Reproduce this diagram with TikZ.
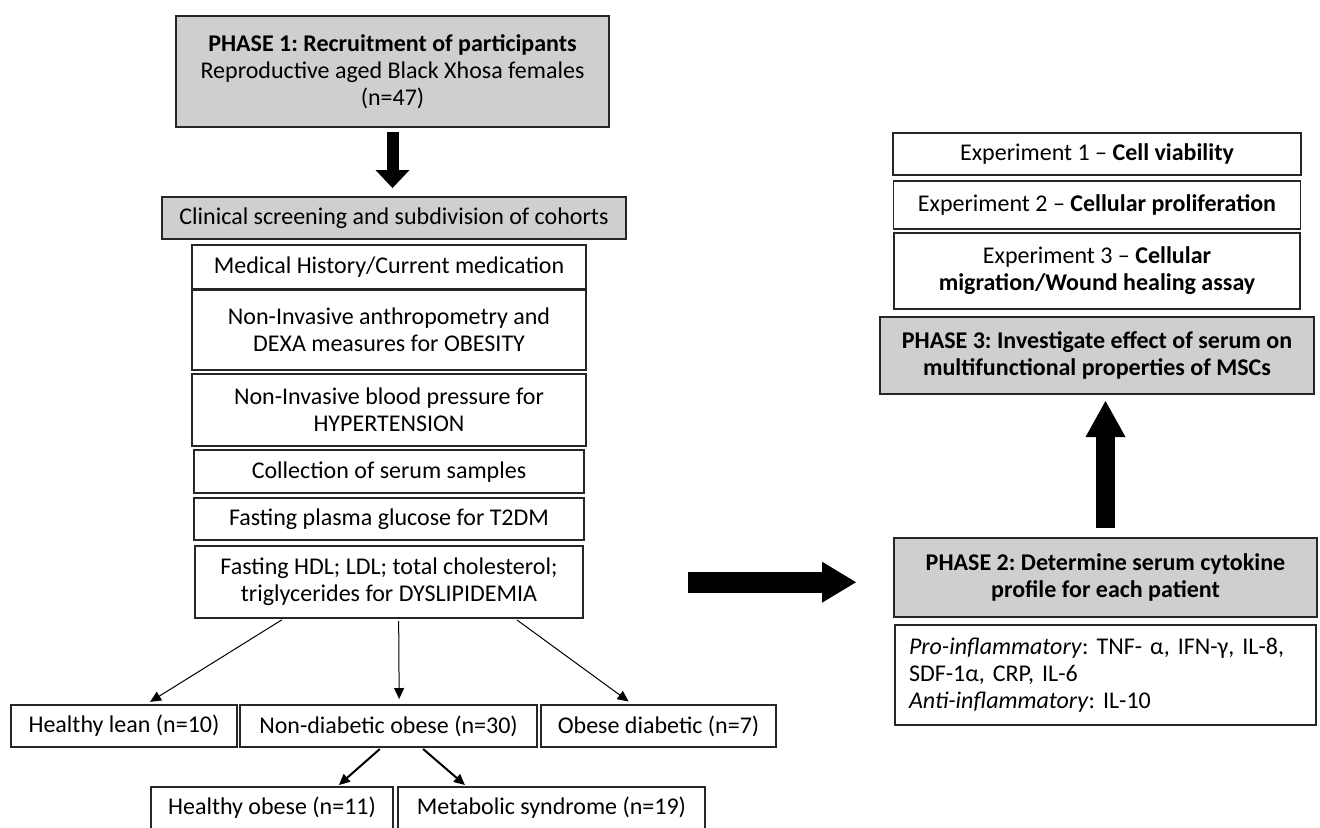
\documentclass[tikz,border=0pt]{standalone}
\usepackage{fontspec}
\setmainfont{Carlito}
\usetikzlibrary{arrows.meta,positioning}
\definecolor{panel}{HTML}{D0CECE}
\frenchspacing

\begin{document}
\begin{tikzpicture}[x=0.5pt,y=-0.5pt,
  font=\fontsize{12}{13.5}\selectfont,
  box/.style={draw=black!85,line width=0.8pt,align=center,inner sep=2pt,outer sep=0pt},
  phase/.style={box,fill=panel},
  split/.style={-{Triangle[length=5.5pt,width=5pt]},line width=0.5pt,shorten <=1.5pt,shorten >=3pt},
  fatarrow/.style={line width=#1}]
  \useasboundingbox (0,0) rectangle (1320,827);
  % left column
  \node[phase,minimum width=216.5pt,minimum height=55.5pt] (recruit) at (392.5,71.5)
    {\textbf{PHASE 1: Recruitment of participants}\\Reproductive aged Black Xhosa females\\(n=47)};
  \node[phase,minimum width=232pt,minimum height=21pt] (screen) at (394,218)
    {Clinical screening and subdivision of cohorts};
  \node[box,minimum width=197pt,minimum height=22pt] (history) at (389,267)
    {Medical History/Current medication};
  \node[box,minimum width=197pt,minimum height=40pt,below=0.6pt of history] (obesity)
    {Non-Invasive anthropometry and\\DEXA measures for OBESITY};
  \node[box,minimum width=197pt,minimum height=36pt,below=2pt of obesity] (pressure)
    {Non-Invasive blood pressure for\\HYPERTENSION};
  \node[box,minimum width=195pt,minimum height=21.5pt,below=2pt of pressure] (serum)
    {Collection of serum samples};
  \node[box,minimum width=195pt,minimum height=21pt,below=2.5pt of serum] (glucose)
    {Fasting plasma glucose for T2DM};
  \node[box,minimum width=194pt,minimum height=36pt,below=3pt of glucose] (lipids)
    {Fasting HDL; LDL; total cholesterol;\\triglycerides for DYSLIPIDEMIA};
  % cohorts
  \node[box,minimum width=113pt,minimum height=21pt] (lean) at (124,726) {Healthy lean (n=10)};
  \node[box,minimum width=148.5pt,minimum height=21pt,right=1.5pt of lean] (nondiab) {Non-diabetic obese (n=30)};
  \node[box,minimum width=117.5pt,minimum height=21pt,right=2pt of nondiab] (diab) {Obese diabetic (n=7)};
  \node[box,minimum width=121pt,minimum height=21pt] (fit) at (272,808) {Healthy obese (n=11)};
  \node[box,minimum width=153.5pt,minimum height=21pt,right=2.5pt of fit] (mets) {Metabolic syndrome (n=19)};
  % right column
  \node[box,minimum width=204pt,minimum height=21pt] (exp1) at (1097,154)
    {Experiment 1 -- \textbf{Cell viability}};
  \node[box,minimum width=203.5pt,minimum height=24pt,below=3pt of exp1] (exp2)
    {Experiment 2 -- \textbf{Cellular proliferation}};
  \node[box,minimum width=203pt,minimum height=38pt,below=2pt of exp2] (exp3)
    {Experiment 3 -- \textbf{Cellular}\\\textbf{migration/Wound healing assay}};
  \node[phase,minimum width=217pt,minimum height=38.5pt,below=4pt of exp3] (stage3)
    {\textbf{PHASE 3: Investigate effect of serum on}\\\textbf{multifunctional properties of MSCs}};
  \node[phase,minimum width=211.5pt,minimum height=39.5pt] (stage2) at (1105.5,577.5)
    {\textbf{PHASE 2: Determine serum cytokine}\\\textbf{profile for each patient}};
  \node[box,align=left,inner xsep=7pt,text width=196.5pt,minimum height=50pt,below=4pt of stage2] (cyto)
    {\textit{Pro-inflammatory}: TNF- α, IFN-γ, IL-8,\\SDF-1α, CRP, IL-6\\\textit{Anti-inflammatory}: IL-10};
  % block arrows
  \draw[fatarrow=6pt,-{Triangle[length=9pt,width=17pt,line width=0pt]},shorten <=2.5pt,shorten >=4.5pt]
    (recruit.south) -- (recruit.south |- screen.north);
  \draw[fatarrow=10.5pt,-{Triangle[length=17pt,width=20.5pt,line width=0pt]},shorten <=52.5pt,shorten >=19pt]
    (lipids.east) -- (lipids.east -| stage2.west);
  \draw[fatarrow=9.5pt,-{Triangle[length=18pt,width=20pt,line width=0pt]},shorten <=5pt,shorten >=3.5pt]
    (stage2.north) -- (stage2.north |- stage3.south);
  % thin arrows
  \draw[split] (lipids.199) -- (lean.45);
  \draw[split] (lipids.285) -- (nondiab.63);
  \draw[split] (lipids.344) -- (diab.140);
  \draw[split,line width=1pt,shorten >=1.5pt] (nondiab.253) -- (fit.18);
  \draw[split,line width=1pt,shorten >=1.5pt] (nondiab.327) -- (mets.166);
\end{tikzpicture}
\end{document}
